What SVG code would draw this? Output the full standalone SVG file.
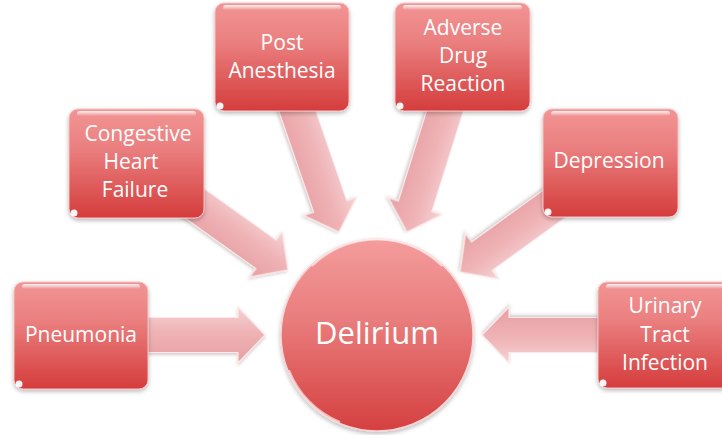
<svg xmlns="http://www.w3.org/2000/svg" width="722" height="435" viewBox="0 0 722 435">
  <defs>
    <linearGradient id="boxFill" x1="0" y1="0" x2="0" y2="1">
      <stop offset="0" stop-color="#f29494"/>
      <stop offset="0.35" stop-color="#eb8080"/>
      <stop offset="1" stop-color="#d53c3c"/>
    </linearGradient>
    <linearGradient id="circleFill" x1="0" y1="0" x2="0" y2="1">
      <stop offset="0" stop-color="#f49c9c"/>
      <stop offset="0.4" stop-color="#ea7e7e"/>
      <stop offset="1" stop-color="#d54040"/>
    </linearGradient>
    <linearGradient id="arrowFill" x1="0" y1="0" x2="0" y2="1">
      <stop offset="0" stop-color="#f6d2d3"/>
      <stop offset="0.45" stop-color="#efb3b6"/>
      <stop offset="1" stop-color="#e79fa3"/>
    </linearGradient>
    <linearGradient id="gloss" x1="0" y1="0" x2="0" y2="1">
      <stop offset="0" stop-color="#ffffff" stop-opacity="0.9"/>
      <stop offset="1" stop-color="#ffffff" stop-opacity="0"/>
    </linearGradient>
    <filter id="shadow" x="-20%" y="-20%" width="140%" height="150%">
      <feDropShadow dx="0" dy="2" stdDeviation="2" flood-color="#000" flood-opacity="0.28"/>
    </filter>
    <filter id="softShadow" x="-20%" y="-30%" width="140%" height="170%">
      <feDropShadow dx="0" dy="2" stdDeviation="1.5" flood-color="#7a5a5a" flood-opacity="0.3"/>
    </filter>
  </defs>
  <style>
    .arrow { fill: url(#arrowFill); stroke: #fbe9ea; stroke-width: 1.2; stroke-linejoin: miter; filter: url(#softShadow); }
    .box { fill: url(#boxFill); stroke: #f6c3c3; stroke-width: 1; filter: url(#shadow); }
    .gloss { fill: url(#gloss); }
    .glint { fill: #ffffff; opacity: 0.95; }
    .label { font-family: "Open Sans", "Liberation Sans", sans-serif; font-size: 21px; fill: #ffffff; text-anchor: middle; }
    .big { font-size: 31px; }
  </style>

  <rect width="722" height="435" fill="#ffffff"/>

  <!-- connectors: broad block arrows, each with its tip at the translate point, pointing along its rotated +x -->
  <g id="connectors">
    <polygon class="arrow" transform="translate(265,335)" points="-165,-17.5 -27,-17.5 -27,-28 0,0 -27,28 -27,17.5 -165,17.5"/>
    <polygon class="arrow" transform="translate(288,270) rotate(35.5)" points="-185,-17.5 -27,-17.5 -27,-28 0,0 -27,28 -27,17.5 -185,17.5"/>
    <polygon class="arrow" transform="translate(339,232) rotate(71)" points="-184,-17.5 -27,-17.5 -27,-28 0,0 -27,28 -27,17.5 -184,17.5"/>
    <polygon class="arrow" transform="translate(407,232) rotate(107.4)" points="-183,-17.5 -27,-17.5 -27,-28 0,0 -27,28 -27,17.5 -183,17.5"/>
    <polygon class="arrow" transform="translate(460,272) rotate(144.1)" points="-186,-17.5 -27,-17.5 -27,-28 0,0 -27,28 -27,17.5 -186,17.5"/>
    <polygon class="arrow" transform="translate(482,335) rotate(180)" points="-165,-17.5 -27,-17.5 -27,-28 0,0 -27,28 -27,17.5 -165,17.5"/>
  </g>

  <g id="pneumonia">
    <rect class="box" x="14" y="282" width="134" height="107" rx="9"/>
    <rect class="gloss" x="22" y="284" width="118" height="5" rx="2.5"/>
    <circle class="glint" cx="19" cy="384" r="3.5"/>
    <text class="label" x="81" y="342">Pneumonia</text>
  </g>

  <g id="congestive-heart-failure">
    <rect class="box" x="69" y="109" width="135" height="109" rx="9"/>
    <rect class="gloss" x="77" y="111" width="119" height="5" rx="2.5"/>
    <circle class="glint" cx="74" cy="213" r="3.5"/>
    <text class="label" x="138" y="141">Congestive</text>
    <text class="label" x="131" y="169">Heart</text>
    <text class="label" x="135" y="197">Failure</text>
  </g>

  <g id="post-anesthesia">
    <rect class="box" x="215" y="3" width="134" height="108" rx="9"/>
    <rect class="gloss" x="223" y="5" width="118" height="5" rx="2.5"/>
    <circle class="glint" cx="220" cy="106" r="3.5"/>
    <text class="label" x="282" y="50">Post</text>
    <text class="label" x="282" y="78">Anesthesia</text>
  </g>

  <g id="adverse-drug-reaction">
    <rect class="box" x="395" y="3" width="135" height="108" rx="9"/>
    <rect class="gloss" x="403" y="5" width="119" height="5" rx="2.5"/>
    <circle class="glint" cx="400" cy="106" r="3.5"/>
    <text class="label" x="463" y="35">Adverse</text>
    <text class="label" x="463" y="63">Drug</text>
    <text class="label" x="463" y="91">Reaction</text>
  </g>

  <g id="depression">
    <rect class="box" x="543" y="109" width="135" height="108" rx="9"/>
    <rect class="gloss" x="551" y="111" width="119" height="5" rx="2.5"/>
    <circle class="glint" cx="548" cy="212" r="3.5"/>
    <text class="label" x="609" y="168">Depression</text>
  </g>

  <g id="urinary-tract-infection">
    <rect class="box" x="598" y="282" width="135" height="106" rx="9"/>
    <rect class="gloss" x="606" y="284" width="119" height="5" rx="2.5"/>
    <circle class="glint" cx="603" cy="383" r="3.5"/>
    <text class="label" x="665" y="313">Urinary</text>
    <text class="label" x="665" y="342">Tract</text>
    <text class="label" x="665" y="370">Infection</text>
  </g>

  <g id="delirium">
    <circle cx="377" cy="335" r="96" fill="url(#circleFill)" stroke="#f9d4d4" stroke-width="1.5" filter="url(#shadow)"/>
    <path d="M 312 266 A 93 93 0 0 1 442 266" fill="none" stroke="#ffffff" stroke-opacity="0.55" stroke-width="2"/>
    <path d="M 289 370 A 93 93 0 0 0 340 422" fill="none" stroke="#ffffff" stroke-opacity="0.6" stroke-width="2"/>
    <text class="label big" x="377" y="344">Delirium</text>
  </g>
</svg>
